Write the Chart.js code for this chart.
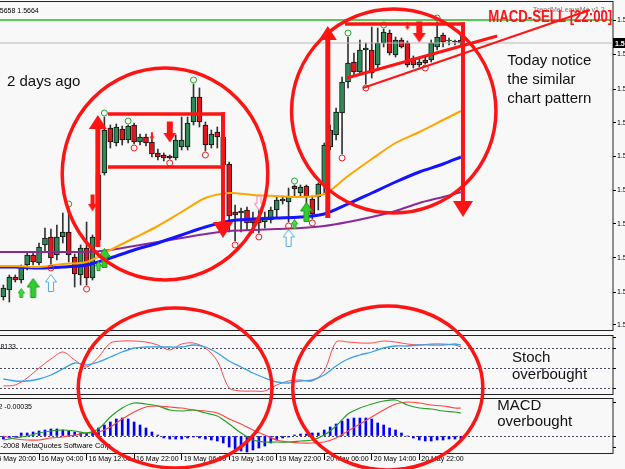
<!DOCTYPE html>
<html>
<head>
<meta charset="utf-8">
<script src="https://cdn.jsdelivr.net/npm/chart.js@4.4.1/dist/chart.umd.min.js"></script>
<style>
  html, body { margin: 0; padding: 0; background: #f8f8f8; }
  canvas { display: block; }
</style>
</head>
<body>
<canvas id="chart" width="625" height="469"></canvas>
<script>
// EURUSD H1 - bar index 0 is 15 May 20:00, first visible candle is index 2
const firstBar = 2;
const open = [
  1.5401, 1.5408, 1.5421, 1.5418, 1.5433, 1.5443, 1.5435, 1.5453,
  1.5461, 1.5443, 1.5461, 1.5466, 1.5441, 1.5423, 1.5450, 1.5420, 1.5458, 1.5525,
  1.5570, 1.5555, 1.5569, 1.5558, 1.5573, 1.5556, 1.5561, 1.5556, 1.5545, 1.5543,
  1.5542, 1.5540, 1.5551, 1.5551, 1.5576, 1.5601, 1.5573, 1.5553, 1.5566, 1.5561,
  1.5534, 1.5486, 1.5485, 1.5488, 1.5480, 1.5480, 1.5476, 1.5478, 1.5488, 1.5497,
  1.5496, 1.5512, 1.5505, 1.5512, 1.5499, 1.5501, 1.5513, 1.5551, 1.5563, 1.5585,
  1.5616, 1.5636, 1.5626, 1.5648, 1.5648, 1.5633, 1.5655, 1.5665, 1.5643, 1.5658,
  1.5655, 1.5640, 1.5633, 1.5638, 1.5638, 1.5651, 1.5663, 1.5657, 1.5657, 1.5658
];
const high = [
  1.5413, 1.5423, 1.5423, 1.5433, 1.5446, 1.5446, 1.5455, 1.5470,
  1.5469, 1.5473, 1.5485, 1.5490, 1.5444, 1.5453, 1.5476, 1.5463, 1.5526, 1.5581,
  1.5573, 1.5574, 1.5572, 1.5573, 1.5575, 1.5564, 1.5564, 1.5559, 1.5549, 1.5545,
  1.5543, 1.5563, 1.5581, 1.5581, 1.5614, 1.5610, 1.5576, 1.5568, 1.5571, 1.5563,
  1.5536, 1.5493, 1.5490, 1.5491, 1.5486, 1.5488, 1.5486, 1.5491, 1.5502, 1.5502,
  1.5510, 1.5513, 1.5513, 1.5513, 1.5502, 1.5515, 1.5555, 1.5573, 1.5590, 1.5621,
  1.5661, 1.5645, 1.5658, 1.5655, 1.5671, 1.5670, 1.5669, 1.5668, 1.5661, 1.5660,
  1.5657, 1.5642, 1.5640, 1.5641, 1.5658, 1.5676, 1.5665, 1.5660, 1.5658, 1.5664
];
const low = [
  1.5398, 1.5396, 1.5416, 1.5415, 1.5428, 1.5433, 1.5433, 1.5446,
  1.5434, 1.5438, 1.5455, 1.5436, 1.5411, 1.5413, 1.5413, 1.5418, 1.5456, 1.5523,
  1.5550, 1.5552, 1.5553, 1.5555, 1.5554, 1.5553, 1.5552, 1.5541, 1.5538, 1.5537,
  1.5539, 1.5538, 1.5548, 1.5548, 1.5573, 1.5571, 1.5547, 1.5550, 1.5550, 1.5530,
  1.5466, 1.5457, 1.5466, 1.5468, 1.5465, 1.5465, 1.5470, 1.5475, 1.5481, 1.5494,
  1.5476, 1.5501, 1.5501, 1.5483, 1.5479, 1.5488, 1.5505, 1.5548, 1.5558, 1.5544,
  1.5610, 1.5623, 1.5625, 1.5614, 1.5620, 1.5630, 1.5651, 1.5643, 1.5641, 1.5650,
  1.5631, 1.5630, 1.5631, 1.5634, 1.5636, 1.5648, 1.5651, 1.5653, 1.5653, 1.5652
];
const close = [
  1.5410, 1.5421, 1.5418, 1.5431, 1.5443, 1.5436, 1.5451, 1.5460,
  1.5440, 1.5461, 1.5466, 1.5443, 1.5424, 1.5450, 1.5420, 1.5461, 1.5523, 1.5568,
  1.5556, 1.5571, 1.5558, 1.5572, 1.5556, 1.5561, 1.5555, 1.5544, 1.5541, 1.5540,
  1.5540, 1.5558, 1.5558, 1.5575, 1.5601, 1.5576, 1.5553, 1.5564, 1.5561, 1.5533,
  1.5482, 1.5483, 1.5487, 1.5475, 1.5475, 1.5475, 1.5481, 1.5488, 1.5498, 1.5499,
  1.5502, 1.5509, 1.5511, 1.5501, 1.5484, 1.5514, 1.5553, 1.5568, 1.5586, 1.5616,
  1.5635, 1.5626, 1.5648, 1.5650, 1.5625, 1.5655, 1.5666, 1.5645, 1.5658, 1.5651,
  1.5633, 1.5633, 1.5636, 1.5635, 1.5655, 1.5661, 1.5656, 1.5658, 1.5656, 1.5655
];
const bars = open.map((_, k) => firstBar + k);

// moving averages, read every 4 bars
const maBars = [0, 4, 8, 12, 16, 20, 24, 28, 32, 36, 40, 44, 48, 52, 56, 60, 64, 68, 72, 76, 79];
const maOrange = [1.5432, 1.5432, 1.5431, 1.5434, 1.5436, 1.5448, 1.5460, 1.5472, 1.5486, 1.5500, 1.5505,
  1.5503, 1.5502, 1.5501, 1.5504, 1.5522, 1.5539, 1.5555, 1.5566, 1.5578, 1.5587];
const maBlue = [1.5431, 1.5431, 1.5430, 1.5431, 1.5433, 1.5440, 1.5448, 1.5455, 1.5463, 1.5471, 1.5477,
  1.5479, 1.5480, 1.5481, 1.5484, 1.5494, 1.5505, 1.5516, 1.5526, 1.5534, 1.5541];
const maPurple = [1.5446, 1.5446, 1.5446, 1.5446, 1.5446, 1.5448, 1.5452, 1.5456, 1.5460, 1.5464, 1.5467,
  1.5468, 1.5469, 1.5470, 1.5472, 1.5476, 1.5481, 1.5487, 1.5495, 1.5501, 1.5506];
const levelBars = [0, 24.5, 105];
const levelPrices = [1.5680, 1.5678, 1.5678];

// fractal circles and signal arrows
const fractalUpBars = [13, 19, 23, 34, 51, 60, 66, 75];
const fractalDownBars = [10, 16, 24, 30, 36, 41, 45, 50, 54, 59, 63, 73];
const buyBigBars = [7, 19, 53];
const buyBigPrices = [1.5410, 1.5440, 1.5486];
const buySmallBars = [5, 18, 51];
const buySmallPrices = [1.5405, 1.5432, 1.5474];
const buyOutlineBars = [10, 50];
const buyOutlinePrices = [1.5415, 1.5460];
const sellOutlineBars = [45];
const sellOutlinePrices = [1.5495];
const sellBigBars = [30, 72];
const sellBigPrices = [1.5566, 1.5666];
const sellMidBars = [17];
const sellMidPrices = [1.5495];
const sellSmallBars = [27, 70];
const sellSmallPrices = [1.5562, 1.5672];

// stochastic and MACD, read every 2 bars
const oscBars = [2, 4, 6, 8, 10, 12, 14, 16, 18, 20, 22, 24, 26, 28, 30, 32, 34, 36, 38, 40,
  42, 44, 46, 48, 50, 52, 54, 56, 58, 60, 62, 64, 66, 68, 70, 72, 74, 76, 78, 79];
const stochMain = [23.5, 25, 35.5, 50.5, 64, 74.5, 62.5, 52, 67, 88, 91, 91, 89.5, 85, 77.5, 86.5, 88, 80.5, 61, 20.5,
  16, 16, 16, 25, 31, 32.5, 31, 46, 89.5, 89.5, 88, 88, 91, 89.5, 86.5, 85, 86.5, 86.5, 85, 82];
const stochSignal = [34, 31, 31, 34, 40, 49, 58, 55, 59.5, 67, 74.5, 80.5, 82, 82, 82, 82, 85, 82, 73, 61,
  52, 43, 35.5, 29.5, 28, 31, 32.5, 40, 53.5, 64, 70, 74.5, 80.5, 83.5, 83.5, 85, 85, 85, 86.5, 85];
const macdGreen = [-0.0004, -0.0002, 0, 0.0003, 0.0005, 0.0006, 0.0005, 0.0003, 0.0007, 0.0019, 0.0028, 0.0033,
  0.0032, 0.0030, 0.0026, 0.0025, 0.0026, 0.0023, 0.0020, 0.0012, 0.0003, -0.0004, -0.0006, -0.0006, -0.0006,
  -0.0005, -0.0004, 0.0001, 0.0010, 0.0022, 0.0028, 0.0032, 0.0035, 0.0036, 0.0031, 0.0028, 0.0027, 0.0025,
  0.0024, 0.0023];
const macdRed = [0, -0.0003, -0.0004, -0.0004, -0.0002, -0.0001, 0.0001, 0.0003, 0.0004, 0.0009, 0.0017, 0.0024,
  0.0029, 0.0030, 0.0029, 0.0028, 0.0026, 0.0025, 0.0023, 0.0017, 0.0012, 0.0006, 0.0001, -0.0004, -0.0006,
  -0.0007, -0.0007, -0.0006, -0.0002, 0.0005, 0.0012, 0.0019, 0.0026, 0.0032, 0.0034, 0.0033, 0.0031, 0.0030,
  0.0028, 0.0028];
const macdHist = [
  -0.0003, -0.0002, -0.0001, 0.0003, 0.0003, 0.0004, 0.0005, 0.0006,
  0.0007, 0.0007, 0.0006, 0.0005, 0.0004, 0.0003, 0.0003, 0.0004, 0.0008, 0.0011,
  0.0014, 0.0017, 0.0018, 0.0017, 0.0014, 0.0011, 0.0008, 0.0004, 0.0001, -0.0002,
  -0.0003, -0.0003, -0.0003, -0.0002, -0.0001, -0.0002, -0.0003, -0.0004, -0.0005, -0.0007,
  -0.0011, -0.0013, -0.0015, -0.0016, -0.0014, -0.0012, -0.0010, -0.0007, -0.0004, -0.0002,
  -0.0001, 0.0001, 0.0002, 0.0002, 0.0003, 0.0003, 0.0006, 0.0009, 0.0012, 0.0015,
  0.0017, 0.0018, 0.0018, 0.0018, 0.0017, 0.0013, 0.0011, 0.0008, 0.0006, 0.0003,
  0, -0.0002, -0.0004, -0.0005, -0.0005, -0.0004, -0.0004, -0.0003, -0.0003, -0.0003
];

// axis ticks
const priceTicks = [1.5678, 1.5644, 1.5609, 1.5575, 1.5542, 1.5508, 1.5474, 1.5440, 1.5406, 1.5373];
const stochTicks = [96.4, 80, 50, 20];
const stochTickLabels = ['96.41', '80', '50', '20.00'];
const macdTicks = [0.0034, 0, -0.0011];
const macdTickLabels = ['0.0034', '0.0000', '-0.0011'];
const timeTickBars = [0, 8, 16, 24, 32, 40, 48, 56, 64, 72];
const timeTickLabels = ['15 May 20:00', '16 May 04:00', '16 May 12:00', '16 May 22:00', '19 May 06:00',
  '19 May 14:00', '19 May 22:00', '20 May 06:00', '20 May 14:00', '20 May 22:00'];

// panel edges in each axis' own units
const mainPanel = [1.5697, 1.5367];
const stochPanel = [100, 10];
const macdPanel = [0.0038, -0.0018];

// hand-drawn annotations, in bar / price units
const RED = '#ff1414';
const ellipses = [
  { bar: 29.2, price: 1.5524, rBars: 17.3, rPrice: 0.0106 },
  { bar: 67.7, price: 1.5587, rBars: 17.2, rPrice: 0.0102 },
  { bar: 30.9, price: 1.5310, rBars: 16.3, rPrice: 0.0080 },
  { bar: 66.7, price: 1.5310, rBars: 16.0, rPrice: 0.0082 }
];
const brackets = [
  { from: 19.6, to: 38.96, top: 1.5584, bottom: 1.5531, tip: 1.5460 },
  { from: 59.5, to: 79.35, top: 1.5674, bottom: null, tip: 1.5481 }
];
const upArrows = [
  { bar: 17.9, from: 1.5451, to: 1.5583 },
  { bar: 56.6, from: 1.5480, to: 1.5672 }
];
const trendLines = [
  { b0: 59.8, p0: 1.5620, b1: 85.1, p1: 1.5662, width: 3 },
  { b0: 62.5, p0: 1.5610, b1: 100.7, p1: 1.5688, width: 2 }
];
const notes = [
  { text: '2 days ago', bar: 2.6, price: 1.5612 },
  { text: 'Today notice', bar: 86.8, price: 1.5633 },
  { text: 'the similar', bar: 86.8, price: 1.5614 },
  { text: 'chart pattern', bar: 86.8, price: 1.5595 },
  { text: 'Stoch', bar: 87.6, price: 1.5336 },
  { text: 'overbought', bar: 87.6, price: 1.5319 },
  { text: 'MACD', bar: 85.1, price: 1.5288 },
  { text: 'overbought', bar: 85.1, price: 1.5272 }
];

const GREEN_BODY = '#2e8b57';
const RED_BODY = '#e8141b';
const FONT = 'Liberation Sans, Arial, sans-serif';

function arrowImage(w, h, dir, fill, stroke) {
  const c = document.createElement('canvas');
  c.width = w; c.height = h;
  const g = c.getContext('2d');
  const head = Math.round(h * 0.45);
  const shaft = Math.max(2, Math.round(w * 0.4));
  const sx = (w - shaft) / 2;
  g.beginPath();
  if (dir === 'up') {
    g.moveTo(w / 2, 0.5); g.lineTo(w - 0.5, head); g.lineTo(sx + shaft, head); g.lineTo(sx + shaft, h - 0.5);
    g.lineTo(sx, h - 0.5); g.lineTo(sx, head); g.lineTo(0.5, head);
  } else {
    g.moveTo(w / 2, h - 0.5); g.lineTo(w - 0.5, h - head); g.lineTo(sx + shaft, h - head); g.lineTo(sx + shaft, 0.5);
    g.lineTo(sx, 0.5); g.lineTo(sx, h - head); g.lineTo(0.5, h - head);
  }
  g.closePath();
  if (fill) { g.fillStyle = fill; g.fill(); }
  if (stroke) { g.strokeStyle = stroke; g.lineWidth = 1; g.stroke(); }
  return c;
}

function vArrow(ctx, x, y0, y1, shaft, headW, headL) {
  const dir = Math.sign(y1 - y0);
  const yb = y1 - dir * headL;
  ctx.fillRect(x - shaft / 2, Math.min(y0, yb), shaft, Math.abs(yb - y0));
  ctx.beginPath();
  ctx.moveTo(x - headW / 2, yb); ctx.lineTo(x + headW / 2, yb); ctx.lineTo(x, y1);
  ctx.closePath(); ctx.fill();
}

const pts = (xs, ys) => xs.map((x, k) => ({ x, y: ys[k] }));
const marker = (xs, ys, img) => ({
  type: 'line', data: pts(xs, ys), showLine: false, pointStyle: img, pointRadius: 6, order: 0
});

const panels = {
  id: 'panels',
  beforeDraw(chart) {
    const { ctx, chartArea, scales } = chart;
    ctx.save();
    ctx.fillStyle = '#f8f8f8';
    ctx.fillRect(0, 0, chart.width, chart.height);
    ctx.strokeStyle = '#222';
    ctx.lineWidth = 1;
    [[scales.y, mainPanel], [scales.stoch, stochPanel], [scales.macd, macdPanel]].forEach(([s, p]) => {
      const t = Math.round(s.getPixelForValue(p[0])) + 0.5;
      const b = Math.round(s.getPixelForValue(p[1])) - 0.5;
      ctx.strokeRect(chartArea.left - 3, t, chartArea.right - chartArea.left + 3, b - t);
    });
    ctx.restore();
  }
};

const overlay = {
  id: 'overlay',
  afterDraw(chart) {
    const { ctx, scales, chartArea } = chart;
    const X = b => scales.x.getPixelForValue(b);
    const Y = p => scales.y.getPixelForValue(p);
    ctx.save();

    // panel header texts
    ctx.fillStyle = '#000';
    ctx.font = '7px ' + FONT;
    ctx.textAlign = 'left';
    ctx.fillText('1.5658 1.5664', -6, Y(mainPanel[0]) + 12);
    ctx.fillStyle = '#777';
    ctx.fillText('TrendMeLeaveMe v1.2', chartArea.right - 80, Y(mainPanel[0]) + 11);
    ctx.fillStyle = '#000';
    ctx.textAlign = 'right';
    ctx.fillText('Stoch(5,3,3) 86.8133', 16, scales.stoch.getPixelForValue(stochPanel[0]) + 14);
    ctx.fillText('MACD(12,26,9) 0.00052 -0.00035', 32, scales.macd.getPixelForValue(macdPanel[0]) + 11);
    ctx.font = '7.4px ' + FONT;
    ctx.fillText('\u00a9 2001-2008 MetaQuotes Software Corp.', 113, scales.macd.getPixelForValue(macdPanel[1]) - 6);

    // current price box
    const last = close[close.length - 1];
    const py = Y(last);
    ctx.fillStyle = '#000';
    ctx.fillRect(chartArea.right, py - 5, 14, 10);
    ctx.fillStyle = '#fff';
    ctx.textAlign = 'left';
    ctx.font = 'bold 7px ' + FONT;
    ctx.fillText(last.toFixed(4), chartArea.right + 2, py + 3);

    // red drawings
    ctx.strokeStyle = RED;
    ctx.fillStyle = RED;
    ctx.lineWidth = 3.5;
    ellipses.forEach(e => {
      ctx.beginPath();
      ctx.ellipse(X(e.bar), Y(e.price), X(e.bar + e.rBars) - X(e.bar), Y(e.price - e.rPrice) - Y(e.price), 0, 0, Math.PI * 2);
      ctx.stroke();
    });
    brackets.forEach(r => {
      ctx.lineWidth = 3.5;
      ctx.beginPath();
      ctx.moveTo(X(r.from), Y(r.top)); ctx.lineTo(X(r.to) + 2, Y(r.top));
      if (r.bottom) { ctx.moveTo(X(r.from), Y(r.bottom)); ctx.lineTo(X(r.to), Y(r.bottom)); }
      ctx.stroke();
      vArrow(ctx, X(r.to), Y(r.top) - 1.75, Y(r.tip), 4, 20, 16);
    });
    upArrows.forEach(a => vArrow(ctx, X(a.bar), Y(a.from), Y(a.to), 5, 18, 14));
    trendLines.forEach(t => {
      ctx.lineWidth = t.width;
      ctx.beginPath();
      ctx.moveTo(X(t.b0), Y(t.p0)); ctx.lineTo(X(t.b1), Y(t.p1));
      ctx.stroke();
    });

    // signal caption, squeezed to its width
    ctx.font = 'bold 17px ' + FONT;
    ctx.textAlign = 'left';
    const sig = 'MACD-SELL [22:00]';
    const w = ctx.measureText(sig).width;
    ctx.save();
    ctx.translate(X(83.6), Y(1.5676));
    ctx.scale(124 / w, 1);
    ctx.fillText(sig, 0, 0);
    ctx.restore();

    // notes
    ctx.fillStyle = '#111';
    ctx.font = '15px ' + FONT;
    notes.forEach(n => ctx.fillText(n.text, X(n.bar), Y(n.price)));
    ctx.restore();
  }
};

const noPad = s => { s.paddingTop = 0; s.paddingBottom = 0; s.paddingLeft = 0; s.paddingRight = 0; };

new Chart(document.getElementById('chart'), {
  type: 'line',
  data: {
    datasets: [
      { type: 'line', data: fractalUpBars.map(b => ({ x: b, y: high[b - firstBar] + 0.0004 })), showLine: false,
        pointStyle: 'circle', pointRadius: 3, pointBorderWidth: 1, pointBorderColor: '#22aa22',
        pointBackgroundColor: 'rgba(0,0,0,0)', order: 0 },
      { type: 'line', data: fractalDownBars.map(b => ({ x: b, y: low[b - firstBar] - 0.0004 })), showLine: false,
        pointStyle: 'circle', pointRadius: 3, pointBorderWidth: 1, pointBorderColor: '#ee2222',
        pointBackgroundColor: 'rgba(0,0,0,0)', order: 0 },
      marker(buyBigBars, buyBigPrices, arrowImage(13, 20, 'up', '#33cc33', '#1e9e1e')),
      marker(buySmallBars, buySmallPrices, arrowImage(7, 10, 'up', '#44dd44', '#22aa22')),
      marker(buyOutlineBars, buyOutlinePrices, arrowImage(12, 18, 'up', '#ffffff', '#55aaee')),
      marker(sellOutlineBars, sellOutlinePrices, arrowImage(10, 15, 'down', '#ffffff', '#ff77aa')),
      marker(sellBigBars, sellBigPrices, arrowImage(14, 22, 'down', RED, null)),
      marker(sellMidBars, sellMidPrices, arrowImage(10, 18, 'down', RED, null)),
      marker(sellSmallBars, sellSmallPrices, arrowImage(6, 9, 'down', RED, null)),

      { type: 'line', data: pts(maBars, maOrange), borderColor: '#ffa500', borderWidth: 2, pointRadius: 0, tension: 0.3, order: 1 },
      { type: 'line', data: pts(maBars, maBlue), borderColor: '#1414ff', borderWidth: 3, pointRadius: 0, tension: 0.3, order: 1 },
      { type: 'line', data: pts(maBars, maPurple), borderColor: '#8a2a96', borderWidth: 2, pointRadius: 0, tension: 0.3, order: 1 },
      { type: 'line', data: pts(levelBars, levelPrices), borderColor: '#22bb22', borderWidth: 1.5, pointRadius: 0, stepped: 'after', order: 2 },
      { type: 'line', data: [{ x: 0, y: close[close.length - 1] }, { x: 105, y: close[close.length - 1] }],
        borderColor: '#b8b8b8', borderWidth: 1, pointRadius: 0, order: 2 },

      { type: 'bar', data: bars.map((b, k) => ({ x: b, y: [open[k], close[k]] })), grouped: false, barThickness: 5,
        backgroundColor: c => (close[c.dataIndex] >= open[c.dataIndex] ? GREEN_BODY : RED_BODY),
        borderColor: '#111', borderWidth: 1, borderSkipped: false, order: 3 },
      { type: 'bar', data: bars.map((b, k) => ({ x: b, y: [low[k], high[k]] })), grouped: false, barThickness: 1,
        backgroundColor: '#333', borderWidth: 0, order: 4 },

      { type: 'line', yAxisID: 'stoch', data: pts(oscBars, stochSignal), borderColor: '#3aa0ea', borderWidth: 1.3, pointRadius: 0, tension: 0.3, order: 1 },
      { type: 'line', yAxisID: 'stoch', data: pts(oscBars, stochMain), borderColor: '#ff4a4a', borderWidth: 1, pointRadius: 0, tension: 0.3, order: 1 },
      { type: 'line', yAxisID: 'macd', data: pts(oscBars, macdGreen), borderColor: '#22a022', borderWidth: 1.2, pointRadius: 0, tension: 0.3, order: 1 },
      { type: 'line', yAxisID: 'macd', data: pts(oscBars, macdRed), borderColor: '#ff4444', borderWidth: 1.2, pointRadius: 0, tension: 0.3, order: 1 },
      { type: 'bar', yAxisID: 'macd', data: pts(bars, macdHist), grouped: false, barThickness: 2,
        backgroundColor: '#0000ff', borderWidth: 0, order: 3 }
    ]
  },
  options: {
    responsive: false,
    animation: false,
    devicePixelRatio: 1,
    layout: { autoPadding: false, padding: { top: 1, left: 0, right: 0, bottom: 0 } },
    plugins: { legend: { display: false }, tooltip: { enabled: false } },
    scales: {
      x: {
        type: 'linear', min: 1.43, max: 104.6, offset: false,
        afterBuildTicks: s => { s.ticks = timeTickBars.map(v => ({ value: v })); },
        afterFit: s => { s.height = 15; noPad(s); },
        grid: { drawOnChartArea: false, drawTicks: true, tickLength: 6, color: '#000', offset: false },
        border: { display: false },
        ticks: { autoSkip: false, maxRotation: 0, align: 'start', padding: -5, labelOffset: 2, color: '#000',
          font: { family: FONT, size: 7 }, callback: (v, i) => timeTickLabels[i] }
      },
      y: {
        type: 'linear', position: 'right', weight: 2, min: 1.5244, max: 1.5697,
        afterBuildTicks: s => { s.ticks = priceTicks.map(v => ({ value: v })); },
        afterFit: s => { s.width = 12; noPad(s); },
        grid: { drawOnChartArea: false, drawTicks: true, tickLength: 3, color: '#000' },
        border: { display: false },
        ticks: { padding: 1, color: '#000', font: { family: FONT, size: 7 }, callback: v => v.toFixed(4) }
      },
      stoch: {
        type: 'linear', position: 'right', weight: 0, min: -78.5, max: 601,
        afterBuildTicks: s => { s.ticks = stochTicks.map(v => ({ value: v })); },
        afterFit: s => { s.width = 0; noPad(s); },
        grid: { drawOnChartArea: true, drawTicks: true, tickLength: 3,
          color: c => (c.tick && c.tick.value === stochTicks[0] ? 'rgba(0,0,0,0)' : '#4a4a66'), tickColor: '#000' },
        border: { display: false, dash: [2, 2] },
        ticks: { padding: 1, color: '#000', font: { family: FONT, size: 7 }, callback: (v, i) => stochTickLabels[i] }
      },
      macd: {
        type: 'linear', position: 'right', weight: 1, min: -0.0018, max: 0.0435,
        afterBuildTicks: s => { s.ticks = macdTicks.map(v => ({ value: v })); },
        afterFit: s => { s.width = 0; noPad(s); },
        grid: { drawOnChartArea: true, drawTicks: true, tickLength: 3,
          color: c => (c.tick && c.tick.value === 0 ? '#4a4a66' : 'rgba(0,0,0,0)'), tickColor: '#000' },
        border: { display: false, dash: [2, 2] },
        ticks: { padding: 1, color: '#000',
          font: c => ({ family: FONT, size: 7, weight: c.tick && c.tick.value === 0 ? 'bold' : 'normal' }),
          callback: (v, i) => macdTickLabels[i] }
      }
    }
  },
  plugins: [panels, overlay]
});
</script>
</body>
</html>
